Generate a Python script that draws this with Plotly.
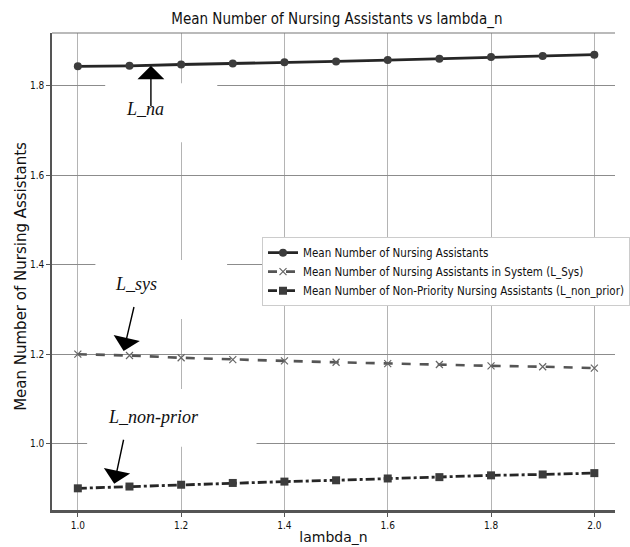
import plotly.graph_objects as go

# lambda_n sweep and the three queue measures
lambda_n = [1.0, 1.1, 1.2, 1.3, 1.4, 1.5, 1.6, 1.7, 1.8, 1.9, 2.0]
L_na = [1.844, 1.845, 1.848, 1.850, 1.853, 1.855, 1.858, 1.861, 1.865, 1.867, 1.870]
L_sys = [1.200, 1.197, 1.192, 1.188, 1.185, 1.182, 1.179, 1.177, 1.174, 1.172, 1.169]
L_non_prior = [0.900, 0.904, 0.908, 0.912, 0.915, 0.918, 0.922, 0.925, 0.929, 0.931, 0.934]

series_names = [
    "Mean Number of Nursing Assistants",
    "Mean Number of Nursing Assistants in System (L_Sys)",
    "Mean Number of Non-Priority Nursing Assistants (L_non_prior)",
]
x_ticks = [1.0, 1.2, 1.4, 1.6, 1.8, 2.0]
y_ticks = [1.0, 1.2, 1.4, 1.6, 1.8]

COND = "DejaVu Sans Condensed, Liberation Sans Narrow, DejaVu Sans, sans-serif"
SANS = "DejaVu Sans, sans-serif"
SERIF = "Liberation Serif, Times New Roman, serif"

fig = go.Figure()

fig.add_trace(go.Scatter(
    x=lambda_n, y=L_na, name=series_names[0], mode="lines+markers",
    line=dict(color="#262626", width=2.8),
    marker=dict(symbol="circle", size=8, color="#3c3c3c"),
))
fig.add_trace(go.Scatter(
    x=lambda_n, y=L_sys, name=series_names[1], mode="lines+markers",
    line=dict(color="#555555", width=2.6, dash="dash"),
    marker=dict(symbol="x-thin", size=7, color="#666666",
                line=dict(color="#666666", width=1.2)),
))
fig.add_trace(go.Scatter(
    x=lambda_n, y=L_non_prior, name=series_names[2], mode="lines+markers",
    line=dict(color="#262626", width=2.8, dash="dashdot"),
    marker=dict(symbol="square", size=8, color="#3c3c3c"),
))

# white patches behind the labels (over the grid, under the lines)
patches = [
    (1.053, 1.270, 1.674, 1.806),
    (1.034, 1.289, 1.279, 1.411),
    (1.018, 1.346, 0.993, 1.122),
]
shapes = [
    dict(type="rect", xref="x", yref="y", x0=a, x1=b, y0=c, y1=d,
         fillcolor="white", line=dict(width=0), layer="between")
    for a, b, c, d in patches
]
# top spine
shapes.append(dict(type="line", xref="paper", yref="paper", x0=0, x1=1,
                   y0=1, y1=1, line=dict(color="#777777", width=1.2)))

annotations = []
# label text
for txt, tx, ty in [("L_na", 1.130, 1.748), ("L_sys", 1.113, 1.356),
                    ("L_non-prior", 1.146, 1.060)]:
    annotations.append(dict(
        x=tx, y=ty, xref="x", yref="y", text=f"<i>{txt}</i>", showarrow=False,
        font=dict(family=SERIF, size=18, color="#111111"),
        xanchor="center", yanchor="middle"))
# arrows pointing at each curve
for hx, hy, tx, ty in [(1.1415, 1.845, 1.1415, 1.752),
                       (1.0887, 1.207, 1.1094, 1.309),
                       (1.0704, 0.910, 1.0892, 1.012)]:
    annotations.append(dict(
        x=hx, y=hy, ax=tx, ay=ty, xref="x", yref="y", axref="x", ayref="y",
        text="", showarrow=True, arrowhead=1, arrowsize=3.2, arrowwidth=1.4,
        arrowcolor="#000000", standoff=0, startstandoff=0))

# y-axis title, placed as rotated text left of the tick labels
annotations.append(dict(
    x=-0.054, y=0.49, xref="paper", yref="paper",
    text="Mean Number of Nursing Assistants", textangle=-90, showarrow=False,
    xanchor="center", yanchor="middle",
    font=dict(family=SANS, size=15, color="#111111")))

fig.update_layout(
    width=630, height=547,
    margin=dict(l=52, r=0, t=33, b=37),
    paper_bgcolor="white", plot_bgcolor="white",
    title=dict(text="Mean Number of Nursing Assistants vs lambda_n",
               x=0.506, xanchor="center", y=0.965, yanchor="middle",
               xref="paper",
               font=dict(family=COND, size=15, color="#111111")),
    showlegend=True,
    legend=dict(x=0.373, y=0.572, xanchor="left", yanchor="top",
                bgcolor="white", bordercolor="#cccccc", borderwidth=1,
                font=dict(family=COND, size=11.5, color="#111111"),
                tracegroupgap=0, itemwidth=30),
    shapes=shapes,
    annotations=annotations,
)

fig.update_xaxes(
    range=[0.95, 2.04], tickvals=x_ticks, ticktext=[f"{v:.1f}" for v in x_ticks],
    showgrid=True, gridcolor="#b4b4b4", gridwidth=1, zeroline=False,
    showline=True, linecolor="#555555", linewidth=2.5,
    ticks="outside", ticklen=4, tickcolor="#555555",
    tickfont=dict(family=COND, size=10, color="#111111"),
    title=dict(text="lambda_n", font=dict(family=SANS, size=14, color="#111111"),
               standoff=3),
)
fig.update_yaxes(
    range=[0.8515, 1.9185], tickvals=y_ticks, ticktext=[f"{v:.1f}" for v in y_ticks],
    showgrid=True, gridcolor="#8c8c8c", gridwidth=1, zeroline=False,
    showline=True, linecolor="#555555", linewidth=1.5,
    ticks="outside", ticklen=4, tickcolor="#555555",
    tickfont=dict(family=COND, size=10, color="#111111"),
)

fig.write_html("out.html")
